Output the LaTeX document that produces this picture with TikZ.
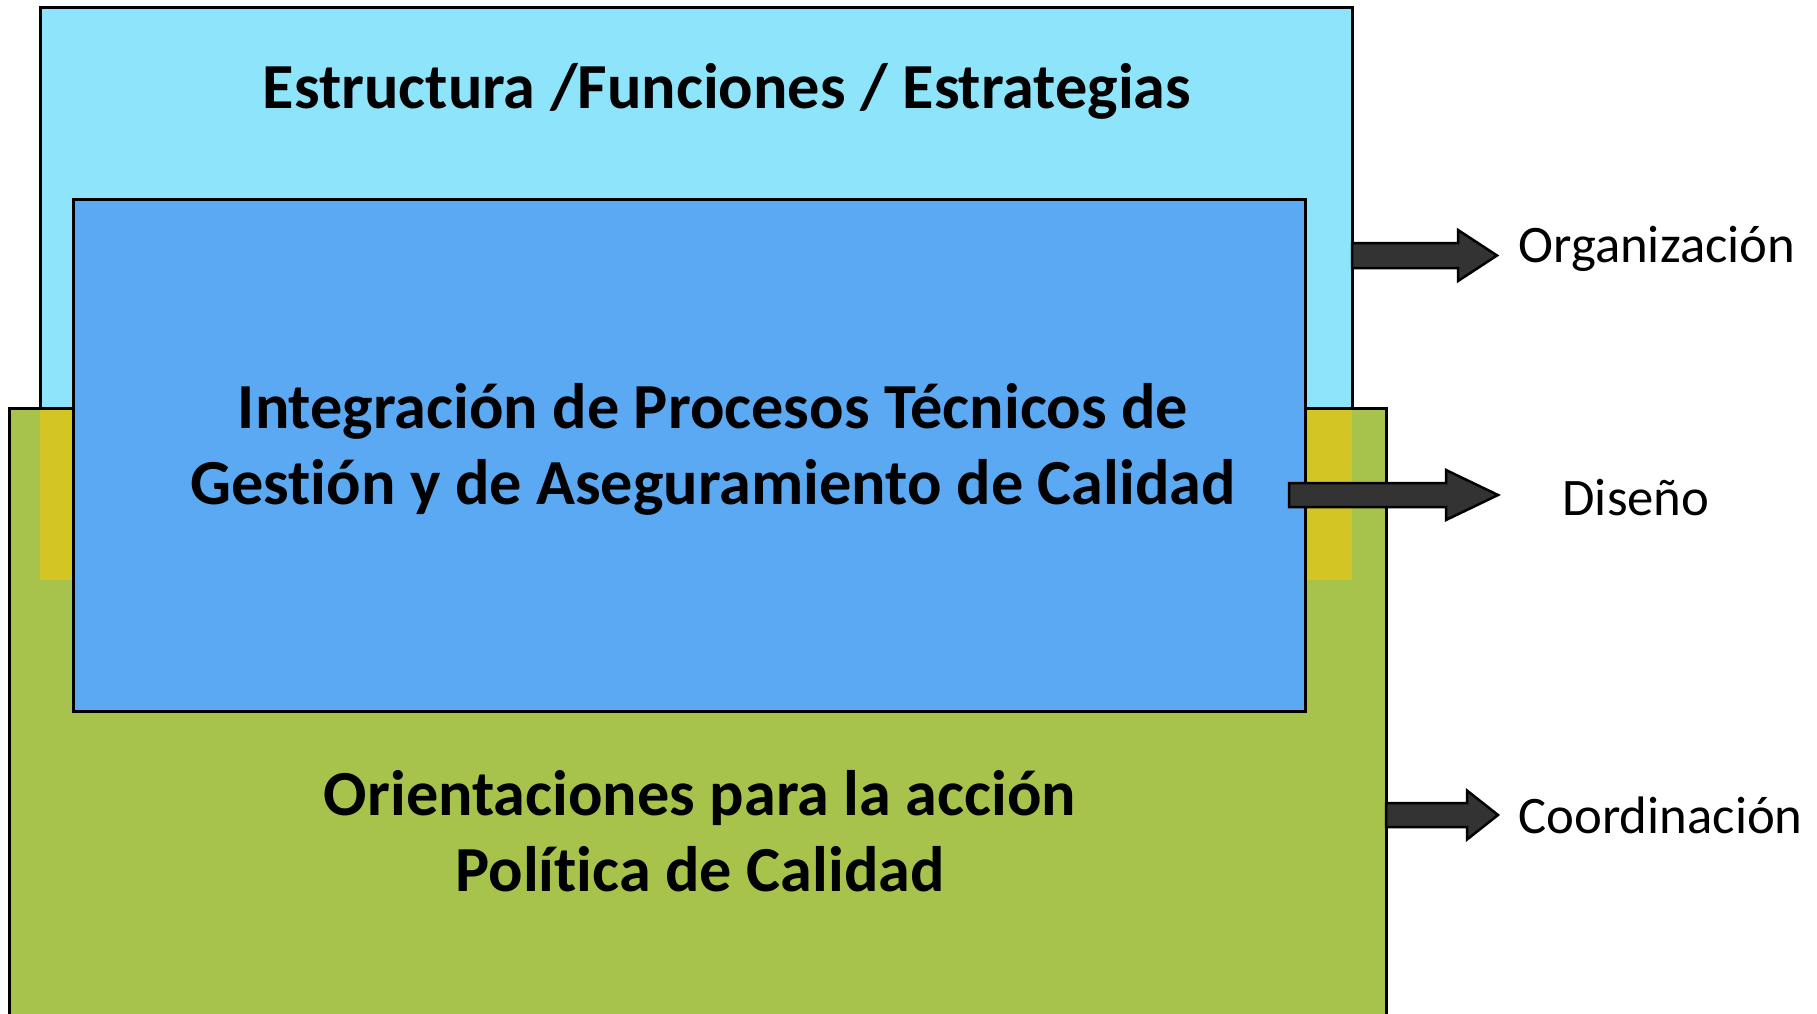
\documentclass[tikz,border=0pt]{standalone}
\usepackage{fontspec}
\setmainfont[Ligatures=NoCommon]{Carlito}
\definecolor{lblue}{RGB}{142,229,251}
\definecolor{dblue}{RGB}{90,169,242}
\definecolor{lgreen}{RGB}{167,195,75}
\definecolor{ovyellow}{RGB}{211,198,36}
\definecolor{arrowgray}{RGB}{51,51,51}
\tikzset{
  boxline/.style={draw=black, line width=1.2pt},
  title/.style={inner sep=0pt, anchor=base, font=\fontsize{25.7}{30}\selectfont\bfseries},
  lbl/.style={inner sep=0pt, anchor=base west, font=\fontsize{21.1}{25}\selectfont},
  blockarrow/.style={draw=black, line width=1pt, fill=arrowgray, line join=miter}
}
\newcommand\barrowpath[6]{%
  \path[blockarrow] (#1,#4-#5) -- (#3,#4-#5) -- (#3,#4-#6) -- (#2,#4) -- (#3,#4+#6) -- (#3,#4+#5) -- (#1,#4+#5) -- cycle;}
\begin{document}
\begin{tikzpicture}[x=0.4pt,y=-0.4pt]
\clip (0,0) rectangle (1817,1013);
\fill[white] (0,0) rectangle (1817,1013);
% outer light blue box
\path[boxline, fill=lblue] (40,7) rectangle (1352,580);
% green box
\fill[lgreen] (9,408) rectangle (1386,1040);
\fill[ovyellow] (40,408) rectangle (73,580);
\fill[ovyellow] (1305,408) rectangle (1352,580);
\draw[boxline] (9,1040) -- (9,408) -- (1386,408) -- (1386,1040);
% inner dark blue box
\path[boxline, fill=dblue] (73,199) rectangle (1305,711);
% titles
\node[title] (t1) at (727,108) {Estructura /Funciones / Estrategias};
\node[title] (t2a) at (713,428) {Integración de Procesos Técnicos de};
\node[title] (t2b) at (713,504) {Gestión y de Aseguramiento de Calidad};
\node[title] (t3a) at (700,815) {Orientaciones para la acción};
\node[title] (t3b) at (700,891) {Política de Calidad};
% arrows
\barrowpath{1352}{1497}{1458}{255.5}{12.5}{25.5}
\barrowpath{1289}{1498}{1446}{495}{12}{25}
\barrowpath{1386}{1498}{1467}{815}{12}{24.5}
% labels
\node[lbl] (l1) at (1518,262) {Organización};
\node[lbl] (l2) at (1562,515) {Diseño};
\node[lbl] (l3) at (1518,833) {Coordinación};
\end{tikzpicture}
\end{document}
